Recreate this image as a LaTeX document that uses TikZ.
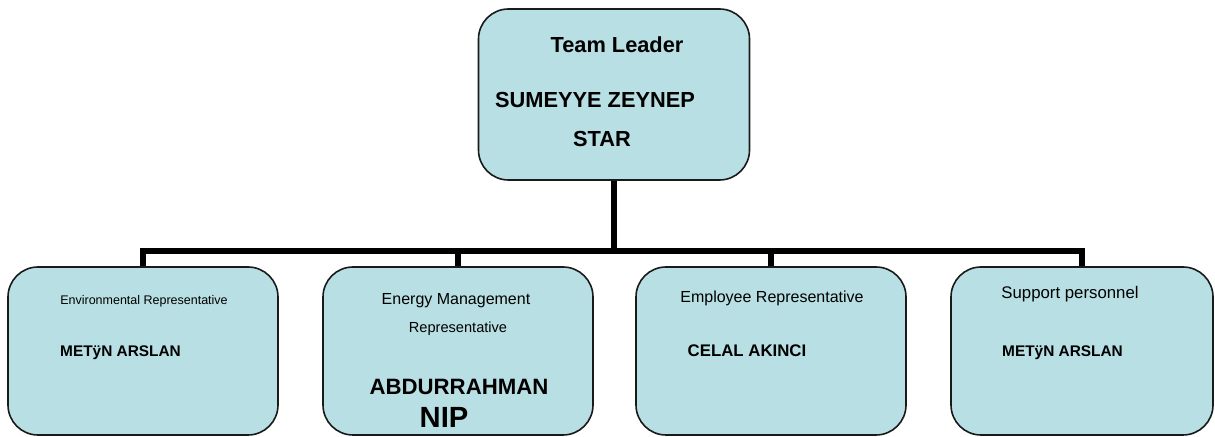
\documentclass[tikz,border=0pt]{standalone}
\usepackage{fontspec}
\setmainfont{Liberation Sans}
\definecolor{boxfill}{HTML}{B8DFE3}
\definecolor{boxline}{HTML}{1A1A1A}
\tikzset{
  orgbox/.style={draw=boxline, line width=0.8pt, fill=boxfill, rounded corners=15pt, minimum height=84pt, inner sep=0pt},
  txt/.style={anchor=base, inner sep=0pt},
  bus/.style={line width=3pt, black},
}
\newcommand{\fs}[1]{\fontsize{#1}{#1}\selectfont}
\begin{document}
\begin{tikzpicture}[x=0.5pt,y=-0.5pt]
\useasboundingbox (0,0) rectangle (1215,437);
% boxes
\node[orgbox, minimum width=135.5pt, minimum height=85.5pt] (top) at (614,94.5) {};
\node[orgbox, minimum width=135pt] (b1) at (143,351) {};
\node[orgbox, minimum width=135pt] (b2) at (458,351) {};
\node[orgbox, minimum width=135pt] (b3) at (771,351) {};
\node[orgbox, minimum width=131pt] (b4) at (1082,351) {};
% connectors
\coordinate (busc) at (614,251);
\draw[bus] (top.south) -- (busc);
\draw[bus] (b1.north) |- (busc) -| (b4.north);
\draw[bus] (b2.north) -- (b2.north |- busc);
\draw[bus] (b3.north) -- (b3.north |- busc);
% texts
\node[txt] (t1) at (617,53) {\fs{10.9pt}\bfseries Team Leader};
\node[txt] (t2) at (595,108) {\fs{10.9pt}\bfseries SUMEYYE ZEYNEP};
\node[txt] (t3) at (602,147) {\fs{10.9pt}\bfseries STAR};
\node[txt] (e1) at (144,305) {\fs{6.25pt}Environmental Representative};
\node[txt] (e2) at (120.5,357) {\fs{7.7pt}\bfseries METÿN ARSLAN};
\node[txt] (g1) at (456,305) {\fs{8pt}Energy Management};
\node[txt] (g2) at (458,333) {\fs{7.3pt}Representative};
\node[txt] (g3) at (459,395) {\fs{11.1pt}\bfseries ABDURRAHMAN};
\node[txt] (g4) at (444,428) {\fs{14.6pt}\bfseries NIP};
\node[txt] (c1) at (772,303) {\fs{8pt}Employee Representative};
\node[txt] (c2) at (747,357) {\fs{8.4pt}\bfseries CELAL AKINCI};
\node[txt] (s1) at (1070,299) {\fs{8.4pt}Support personnel};
\node[txt] (s2) at (1062.5,357) {\fs{7.7pt}\bfseries METÿN ARSLAN};
\end{tikzpicture}
\end{document}
